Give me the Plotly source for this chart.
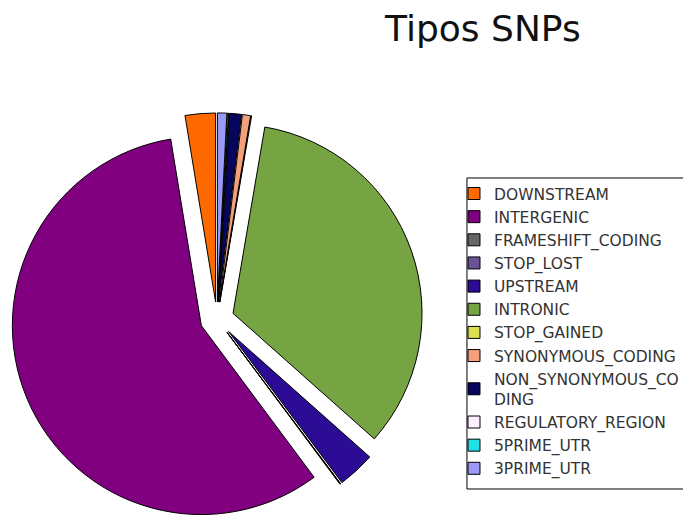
import plotly.graph_objects as go

# SNP categories (legend order = slice order, counter-clockwise from 12 o'clock)
categories = [
    "DOWNSTREAM",
    "INTERGENIC",
    "FRAMESHIFT_CODING",
    "STOP_LOST",
    "UPSTREAM",
    "INTRONIC",
    "STOP_GAINED",
    "SYNONYMOUS_CODING",
    "NON_SYNONYMOUS_CO<br>DING",
    "REGULATORY_REGION",
    "5PRIME_UTR",
    "3PRIME_UTR",
]

# share of SNPs per category (%)
shares = [2.6, 57.8, 0.05, 0.02, 3.2, 34.0, 0.05, 0.7, 1.0, 0.05, 0.1, 0.8]

slice_colors = [
    "#FF6A00",  # downstream
    "#800080",  # intergenic
    "#666666",  # frameshift
    "#6A5294",  # stop lost
    "#2C0C94",  # upstream
    "#77A443",  # intronic
    "#DCE04E",  # stop gained
    "#F4A07A",  # synonymous
    "#06065C",  # non-synonymous
    "#FCEEFC",  # regulatory
    "#22E0E8",  # 5' UTR
    "#9A9AF6",  # 3' UTR
]

pull = [0.09] * len(categories)

# plotly puts the end of the first counter-clockwise slice at 12 o'clock;
# turn the pie so that the first slice starts there instead
first_slice_deg = shares[0] / sum(shares) * 360

fig = go.Figure(
    go.Pie(
        labels=categories,
        values=shares,
        sort=False,
        direction="counterclockwise",
        rotation=-first_slice_deg,
        pull=pull,
        textinfo="none",
        hoverinfo="label+percent",
        marker=dict(colors=slice_colors, line=dict(color="#000000", width=1)),
        domain=dict(x=[0.0161, 0.6193], y=[0.0, 0.785]),
    )
)

# legend frame (open on the right, running off the page edge)
fig.add_shape(
    type="rect",
    xref="paper", yref="paper",
    x0=0.6837, x1=1.02, y0=0.0686, y1=0.661,
    line=dict(color="#000000", width=1),
    fillcolor="rgba(0,0,0,0)",
    layer="above",
)

fig.update_layout(
    width=683,
    height=525,
    margin=dict(l=0, r=0, t=0, b=0, autoexpand=False),
    paper_bgcolor="white",
    plot_bgcolor="white",
    font=dict(family="DejaVu Sans", color="#222222"),
    title=dict(
        text="Tipos SNPs",
        x=0.707,
        xanchor="center",
        xref="paper",
        y=0.945,
        yanchor="middle",
        yref="container",
        font=dict(family="DejaVu Sans", size=36, color="#111111"),
    ),
    showlegend=True,
    legend=dict(
        x=0.6647,
        y=0.663,
        xanchor="left",
        yanchor="top",
        borderwidth=0,
        bgcolor="rgba(0,0,0,0)",
        font=dict(family="DejaVu Sans", size=15.5, color="#333333"),
        traceorder="normal",
    ),
)

fig.write_html("out.html")
